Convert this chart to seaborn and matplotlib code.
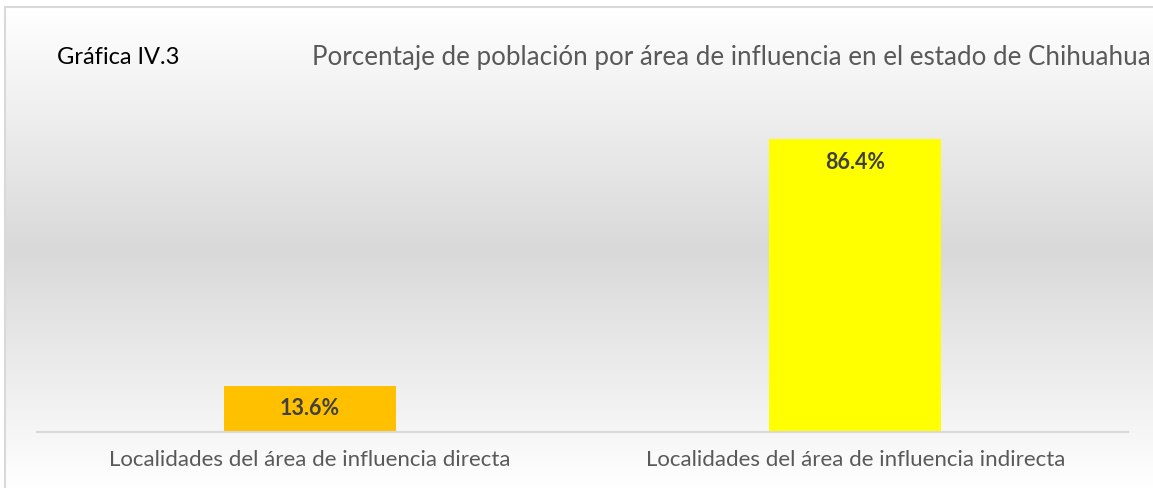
import numpy as np
import matplotlib
matplotlib.use("Agg")
import matplotlib.pyplot as plt
from matplotlib.colors import LinearSegmentedColormap
import seaborn as sns

# Data
categories = ["Localidades del área de influencia directa",
              "Localidades del área de influencia indirecta"]
values = [13.6, 86.4]
bar_colors = ["#FFC000", "#FFFF00"]
value_labels = ["13.6%", "86.4%"]

sns.set_theme(style="white")
plt.rcParams["font.family"] = ["Lato", "DejaVu Sans"]

W, H = 1153, 488
fig = plt.figure(figsize=(W / 100, H / 100), dpi=100)
fig.patch.set_facecolor("white")

# gradient background (white - gray - white)
bg = fig.add_axes([5 / W, 0, 1 - 5 / W, (H - 7) / H])
ys = np.linspace(7, H, 400)
g = np.clip(1 - np.abs(ys - 250) / 240, 0, 1)
cmap = LinearSegmentedColormap.from_list("g", ["#FFFFFF", "#D9D9D9"])
bg.imshow(g[:, None], aspect="auto", cmap=cmap, vmin=0, vmax=1,
          extent=[0, 1, 0, 1])
bg.set_xticks([])
bg.set_yticks([])
for s in ["right", "bottom"]:
    bg.spines[s].set_visible(False)
for s in ["left", "top"]:
    bg.spines[s].set_color("#D9D9D9")
    bg.spines[s].set_linewidth(1.5)

# main chart
ax = fig.add_axes([37 / W, (H - 432) / H, 1091 / W, (432 - 93) / H])
ax.patch.set_alpha(0)
sns.barplot(x=categories, y=values, hue=categories, palette=bar_colors,
            width=0.315, saturation=1, linewidth=0, legend=False, ax=ax)
ax.set_xlim(-0.5, 1.5)
ax.set_ylim(0, 100)
ax.set_yticks([])
ax.set_xlabel("")
ax.set_ylabel("")
for s in ["left", "right", "top"]:
    ax.spines[s].set_visible(False)
ax.spines["bottom"].set_color("#D9D9D9")
ax.spines["bottom"].set_linewidth(1.5)
ax.tick_params(axis="x", length=0, pad=13, labelsize=16, labelcolor="#595959")

for i, (v, lab) in enumerate(zip(values, value_labels)):
    ax.annotate(lab, (i, v), xytext=(0, -23), textcoords="offset pixels",
                ha="center", va="center", fontsize=15.5, fontweight="bold",
                color="#404040")

fig.text(57 / W, 1 - 57 / H, "Gráfica IV.3", ha="left", va="center",
         fontsize=17, color="black")
fig.text(312 / W, 1 - 57 / H,
         "Porcentaje de población por área de influencia en el estado de Chihuahua",
         ha="left", va="center", fontsize=18.7, color="#595959")

fig.savefig("out.png", dpi=100)
